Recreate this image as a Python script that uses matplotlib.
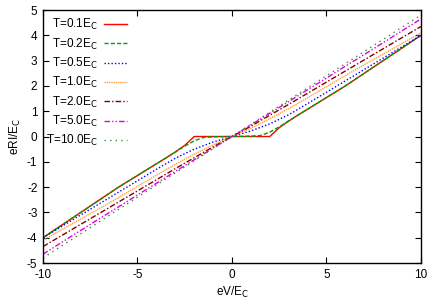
import matplotlib
matplotlib.use("Agg")
import matplotlib.pyplot as plt

plt.rcParams['font.family'] = ['Liberation Sans', 'DejaVu Sans']
plt.rcParams['axes.unicode_minus'] = False

labels = ["T=0.1E$_\\mathrm{C}$", "T=0.2E$_\\mathrm{C}$", "T=0.5E$_\\mathrm{C}$",
          "T=1.0E$_\\mathrm{C}$", "T=2.0E$_\\mathrm{C}$", "T=5.0E$_\\mathrm{C}$",
          "T=10.0E$_\\mathrm{C}$"]

# T = 0.1 E_C
v_t01 = [-10, -9, -8, -7, -6, -5.5, -5, -4.5, -4, -3.5, -3, -2.5, -2,
         2, 2.5, 3, 3.5, 4, 4.5, 5, 5.5, 6, 7, 8, 9, 10]
i_t01 = [-4.0, -3.5, -3.0, -2.5, -2.0, -1.77, -1.54, -1.31, -1.08, -0.85, -0.61, -0.35, 0.0,
         0.0, 0.35, 0.61, 0.85, 1.08, 1.31, 1.54, 1.77, 2.0, 2.5, 3.0, 3.5, 4.0]
# T = 0.2 E_C
v_t02 = [-10, -8, -6, -5, -4, -3.5, -3, -2.5, -2.3, -2, -1.5, -1, 0,
         1, 1.5, 2, 2.3, 2.5, 3, 3.5, 4, 5, 6, 8, 10]
i_t02 = [-4.0, -3.0, -2.0, -1.54, -1.08, -0.85, -0.62, -0.38, -0.3, -0.17, -0.04, -0.015, 0.0,
         0.015, 0.04, 0.17, 0.3, 0.38, 0.62, 0.85, 1.08, 1.54, 2.0, 3.0, 4.0]
# T = 0.5 E_C
v_t05 = [-10, -9, -8, -7, -6, -5, -4, -3, -2, -1, 0, 1, 2, 3, 4, 5, 6, 7, 8, 9, 10]
i_t05 = [-4.0, -3.55, -3.1, -2.65, -2.2, -1.75, -1.3, -0.86, -0.5, -0.22, 0.0,
         0.22, 0.5, 0.86, 1.3, 1.75, 2.2, 2.65, 3.1, 3.55, 4.0]
# common grid for higher temperatures
v_grid = [-10, -9, -8, -7, -6, -5, -4, -3, -2, -1, 0, 1, 2, 3, 4, 5, 6, 7, 8, 9, 10]
i_t1 = [-4.1, -3.68, -3.26, -2.84, -2.41, -1.97, -1.53, -1.1, -0.7, -0.33, 0.0,
        0.33, 0.7, 1.1, 1.53, 1.97, 2.41, 2.84, 3.26, 3.68, 4.1]
i_t2 = [-4.35, -3.91, -3.47, -3.03, -2.59, -2.15, -1.71, -1.27, -0.84, -0.41, 0.0,
        0.41, 0.84, 1.27, 1.71, 2.15, 2.59, 3.03, 3.47, 3.91, 4.35]
i_t5 = [-4.65, -4.18, -3.71, -3.24, -2.78, -2.31, -1.85, -1.38, -0.92, -0.46, 0.0,
        0.46, 0.92, 1.38, 1.85, 2.31, 2.78, 3.24, 3.71, 4.18, 4.65]
i_t10 = [-4.8, -4.32, -3.84, -3.36, -2.88, -2.4, -1.92, -1.44, -0.96, -0.48, 0.0,
         0.48, 0.96, 1.44, 1.92, 2.4, 2.88, 3.36, 3.84, 4.32, 4.8]

x_ticks = [-10, -5, 0, 5, 10]
y_ticks = [-5, -4, -3, -2, -1, 0, 1, 2, 3, 4, 5]

fig = plt.figure(figsize=(4.36, 3.05), dpi=100)
ax = fig.add_axes([0.0986, 0.1377, 0.867, 0.8295])

lw = 1.0
ax.plot(v_t01, i_t01, color='#ff0000', lw=lw, ls='-', label=labels[0])
ax.plot(v_t02, i_t02, color='#00a000', lw=lw, ls=(0, (3, 1.5)), label=labels[1])
ax.plot(v_t05, i_t05, color='#0000ff', lw=lw, ls=(0, (1, 1.5)), label=labels[2])
ax.plot(v_grid, i_t1, color='#ffa040', lw=lw, ls=(0, (1, 0.6)), label=labels[3])
ax.plot(v_grid, i_t2, color='#800000', lw=lw, ls=(0, (4, 1.5, 1, 1.5)), label=labels[4])
ax.plot(v_grid, i_t5, color='#e000e0', lw=lw, ls=(0, (4, 1.5, 1, 1.5, 1, 1.5)), label=labels[5])
ax.plot(v_grid, i_t10, color='#3c8c3c', lw=lw, ls=(0, (1, 3)), label=labels[6])

ax.set_xlim(-10, 10)
ax.set_ylim(-5, 5)
ax.set_xticks(x_ticks)
ax.set_yticks(y_ticks)
ax.set_xticklabels([str(t) for t in x_ticks])
ax.set_yticklabels([str(t) for t in y_ticks])
ax.tick_params(direction='in', top=True, right=True, length=4, width=0.8,
               labelsize=8.5, pad=4)
for s in ax.spines.values():
    s.set_linewidth(1.0)

ax.set_xlabel("eV/E$_\\mathrm{C}$", fontsize=8.5, labelpad=3)
ax.set_ylabel("eRI/E$_\\mathrm{C}$", fontsize=8.5, labelpad=3)

leg = ax.legend(loc='upper left', frameon=False, markerfirst=False, fontsize=8.5,
                handlelength=2.0, handletextpad=0.5, labelspacing=0.36,
                borderaxespad=0.2, bbox_to_anchor=(-0.012, 1.0))

fig.savefig("out.png", dpi=100)
